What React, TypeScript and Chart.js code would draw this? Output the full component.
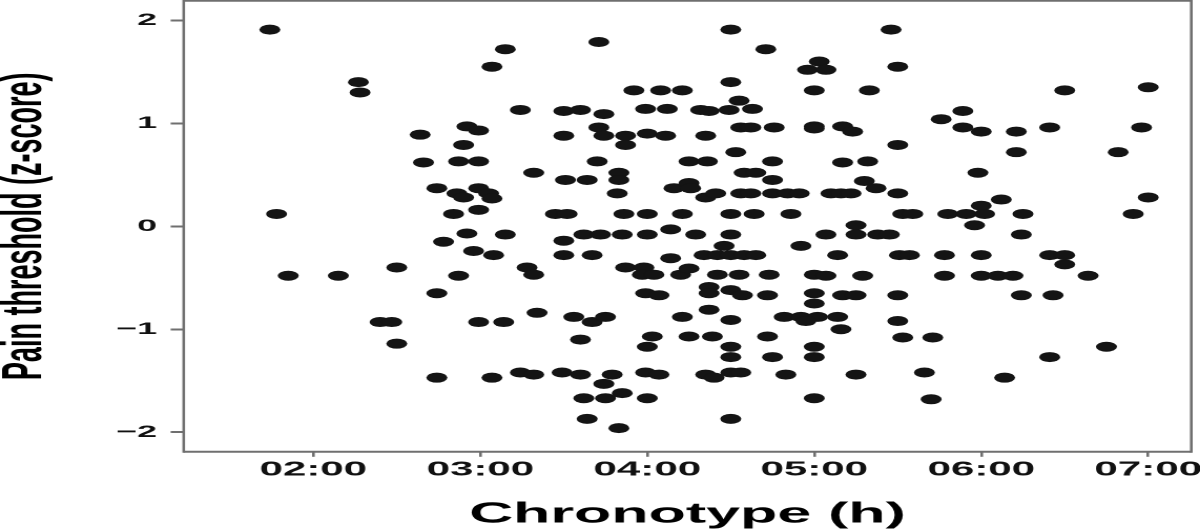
import { useEffect, useRef } from 'react';
import { Chart, registerables } from 'chart.js';

Chart.register(...registerables);

// chronotype in decimal hours, one entry per participant
const chronotype = [
  1.74, 3.15, 3.07, 2.27, 2.28, 2.92, 2.99, 2.64, 2.90, 2.66,
  2.87, 2.99, 2.74, 2.86, 2.90, 2.99, 3.05, 3.07, 1.78, 2.84,
  2.99, 2.92, 3.15, 2.78, 2.96, 3.08, 1.85, 2.15, 2.50, 2.87,
  2.74, 2.40, 2.47, 2.99, 3.14, 2.50, 2.74, 3.07,
  4.50, 3.71, 4.71, 5.03, 4.96, 5.07, 4.50, 3.92, 4.08, 4.21,
  5.00, 4.55, 3.24, 3.50, 3.60, 3.74, 3.99, 4.12, 4.32, 4.37,
  4.49, 4.63, 4.56, 4.62, 4.76, 5.00, 5.00, 3.71, 3.50, 3.74,
  3.87, 4.00, 4.11, 3.87, 4.35, 4.53, 3.70, 4.25, 4.36, 4.75,
  3.32, 3.83, 3.83, 3.51, 3.64, 4.58, 4.65, 4.75, 3.82, 4.16,
  4.25, 4.26, 4.35, 4.41, 4.56, 4.62, 4.75, 4.84, 4.91, 3.45,
  3.52, 3.86, 4.00, 4.21, 4.50, 4.64, 4.86,
  3.62, 3.72, 3.85, 4.00, 4.14, 4.29, 4.50, 5.07, 3.50, 3.50,
  3.67, 4.14, 4.34, 4.42, 4.50, 4.58, 4.65, 4.46, 4.92, 3.28,
  3.32, 3.87, 3.98, 3.97, 4.04, 4.20, 4.25, 4.42, 4.55, 4.73,
  5.00, 3.99, 4.07, 4.37, 4.37, 4.50, 4.57, 4.72, 5.00, 5.00,
  3.34, 3.56, 3.67, 3.75, 4.21, 4.37, 4.50, 4.82, 4.92, 5.02,
  4.95, 5.16, 3.60, 4.03, 4.00, 4.25, 4.39, 4.50, 4.50, 4.72,
  4.75, 5.00, 5.00, 3.24, 3.32, 3.49, 3.60, 3.79, 3.74, 3.99,
  4.07, 4.35, 4.40, 4.50, 4.56, 4.83, 3.62, 3.75, 3.85, 4.00,
  5.00, 3.64, 4.50, 3.83,
  5.46, 5.50, 5.33, 6.50, 7.00, 5.89, 5.76, 5.17, 5.23, 5.50,
  5.89, 6.00, 6.21, 6.41, 6.96, 6.21, 6.82, 5.17, 5.32, 5.98,
  5.30, 5.10, 5.16, 5.22, 5.37, 5.50, 6.12, 6.00, 7.00, 5.53,
  5.59, 5.80, 5.91, 6.02, 6.25, 6.91, 5.96, 5.25,
  5.25, 5.38, 5.45, 6.24, 5.14, 5.51, 5.57, 5.78, 6.00, 6.41,
  6.50, 6.50, 5.07, 5.29, 5.78, 6.00, 6.10, 6.19, 6.64, 5.17,
  5.25, 5.50, 6.24, 6.43, 5.14, 5.50, 5.53, 5.71, 6.75, 6.41,
  5.25, 5.66, 6.14, 5.70,
];

// pain threshold z-scores, same order as chronotype
const painZ = [
  1.91, 1.72, 1.55, 1.40, 1.30, 0.97, 0.93, 0.89, 0.79, 0.62,
  0.63, 0.63, 0.37, 0.32, 0.28, 0.37, 0.32, 0.27, 0.12, 0.12,
  0.16, -0.07, -0.08, -0.15, -0.24, -0.28, -0.48, -0.48, -0.40, -0.48,
  -0.65, -0.93, -0.93, -0.93, -0.93, -1.14, -1.47, -1.47,
  1.91, 1.79, 1.72, 1.60, 1.52, 1.52, 1.40, 1.32, 1.32, 1.32,
  1.32, 1.22, 1.13, 1.12, 1.13, 1.09, 1.14, 1.14, 1.13, 1.12,
  1.13, 1.14, 0.96, 0.96, 0.96, 0.97, 0.95, 0.96, 0.88, 0.88,
  0.88, 0.90, 0.88, 0.79, 0.88, 0.72, 0.63, 0.63, 0.63, 0.63,
  0.52, 0.52, 0.45, 0.45, 0.45, 0.52, 0.52, 0.45, 0.32, 0.37,
  0.42, 0.37, 0.28, 0.32, 0.32, 0.32, 0.32, 0.32, 0.32, 0.12,
  0.12, 0.12, 0.12, 0.12, 0.12, 0.12, 0.12,
  -0.08, -0.08, -0.08, -0.08, -0.03, -0.08, -0.08, -0.08, -0.14, -0.28,
  -0.28, -0.31, -0.28, -0.28, -0.28, -0.28, -0.28, -0.19, -0.19, -0.40,
  -0.47, -0.40, -0.40, -0.47, -0.47, -0.47, -0.41, -0.47, -0.47, -0.47,
  -0.47, -0.65, -0.67, -0.59, -0.65, -0.62, -0.67, -0.67, -0.65, -0.75,
  -0.84, -0.88, -0.93, -0.88, -0.88, -0.81, -0.91, -0.88, -0.88, -0.88,
  -0.92, -1.00, -1.10, -1.07, -1.17, -1.07, -1.07, -1.17, -1.27, -1.07,
  -1.27, -1.17, -1.27, -1.42, -1.44, -1.42, -1.44, -1.44, -1.53, -1.42,
  -1.44, -1.44, -1.47, -1.42, -1.42, -1.44, -1.67, -1.67, -1.62, -1.67,
  -1.67, -1.87, -1.87, -1.96,
  1.91, 1.55, 1.32, 1.32, 1.35, 1.12, 1.04, 0.97, 0.92, 0.79,
  0.96, 0.92, 0.92, 0.96, 0.96, 0.72, 0.72, 0.62, 0.63, 0.52,
  0.44, 0.32, 0.32, 0.32, 0.37, 0.32, 0.26, 0.20, 0.28, 0.12,
  0.12, 0.12, 0.12, 0.12, 0.12, 0.12, 0.01, 0.01,
  -0.08, -0.08, -0.08, -0.08, -0.28, -0.28, -0.28, -0.28, -0.28, -0.28,
  -0.28, -0.37, -0.48, -0.48, -0.48, -0.48, -0.48, -0.48, -0.48, -0.67,
  -0.67, -0.67, -0.67, -0.67, -0.88, -0.92, -1.08, -1.08, -1.17, -1.27,
  -1.44, -1.42, -1.47, -1.68,
];

const xTickValues = [2, 3, 4, 5, 6, 7];
const xTickLabels = ['02:00', '03:00', '04:00', '05:00', '06:00', '07:00'];
const yTickValues = [-2, -1, 0, 1, 2];
const yTickLabels = ['\u22122', '\u22121', '0', '1', '2'];

const xTitle = 'Chronotype (h)';
const yTitle = 'Pain threshold (z-score)';

// the source figure is squashed vertically, so draw it narrow and show it 1200 wide
const VIEW_W = 1200;
const VIEW_H = 530;
const DRAW_W = 571;
const SX = VIEW_W / DRAW_W;

const FONT = '"Liberation Sans", Arial, sans-serif';
const AXIS = '#6f6f6f';
const INK = '#111111';

const framePlugin = {
  id: 'frame',
  afterDraw(chart: Chart) {
    const { ctx, chartArea: a } = chart;
    ctx.save();
    ctx.strokeStyle = AXIS;
    ctx.lineWidth = 2;
    ctx.beginPath();
    ctx.moveTo(a.left, a.top);
    ctx.lineTo(a.right, a.top);
    ctx.moveTo(a.left, a.bottom);
    ctx.lineTo(a.right, a.bottom);
    ctx.stroke();
    ctx.lineWidth = 2.7 / SX;
    ctx.beginPath();
    ctx.moveTo(a.left, a.top - 1);
    ctx.lineTo(a.left, a.bottom + 1);
    ctx.moveTo(a.right, a.top - 1);
    ctx.lineTo(a.right, a.bottom + 1);
    ctx.stroke();
    ctx.restore();
  },
};

export default function App() {
  const canvasRef = useRef<HTMLCanvasElement>(null);

  useEffect(() => {
    document.body.style.margin = '0';
    if (!canvasRef.current) return;

    const chart = new Chart(canvasRef.current, {
      type: 'scatter',
      data: {
        datasets: [{
          data: chronotype.map((x, i) => ({ x, y: painZ[i] })),
          pointRadius: 5,
          pointBackgroundColor: '#141414',
          pointBorderWidth: 0,
          pointHoverRadius: 5,
        }],
      },
      options: {
        responsive: false,
        devicePixelRatio: 2,
        animation: false,
        events: [],
        layout: { autoPadding: false, padding: { top: 0.8, right: 4.14, bottom: 0, left: 0 } },
        plugins: {
          legend: { display: false },
          tooltip: { enabled: false },
        },
        scales: {
          x: {
            type: 'linear',
            position: 'bottom',
            min: 1.224,
            max: 7.258,
            afterBuildTicks: (s: any) => { s.ticks = xTickValues.map((value) => ({ value })); },
            afterFit: (s: any) => { s.height = 78.2; s.paddingLeft = 0; s.paddingRight = 0; },
            border: { display: false },
            grid: { drawOnChartArea: false, drawTicks: true, tickLength: 5, color: AXIS, lineWidth: 2.7 / SX },
            ticks: {
              autoSkip: false,
              maxRotation: 0,
              minRotation: 0,
              padding: 1.3,
              color: INK,
              font: { family: FONT, size: 20, weight: 'bold' },
              callback: (_v: any, i: number) => xTickLabels[i],
            },
            title: {
              display: true,
              text: xTitle,
              color: '#000',
              font: { family: FONT, size: 29, weight: 'bold', lineHeight: 1 },
              padding: { top: 0, bottom: 1 },
            },
          },
          y: {
            type: 'linear',
            min: -2.19,
            max: 2.19,
            afterBuildTicks: (s: any) => { s.ticks = yTickValues.map((value) => ({ value })); },
            afterFit: (s: any) => { s.width = 183.7 / SX; s.paddingTop = 0; s.paddingBottom = 0; },
            border: { display: false },
            grid: { drawOnChartArea: false, drawTicks: true, tickLength: 6.2, color: AXIS, lineWidth: 2 },
            ticks: {
              autoSkip: false,
              padding: 6.5,
              color: INK,
              font: { family: FONT, size: 17, weight: 'bold' },
              callback: (_v: any, i: number) => yTickLabels[i],
            },
            title: {
              display: true,
              text: yTitle,
              color: '#000',
              font: { family: FONT, size: 27, weight: 'bold', lineHeight: 0.9 },
              padding: 0,
            },
          },
        },
      },
      plugins: [framePlugin],
    });

    return () => chart.destroy();
  }, []);

  return (
    <canvas
      ref={canvasRef}
      width={DRAW_W}
      height={VIEW_H}
      style={{ display: 'block', width: `${VIEW_W}px`, height: `${VIEW_H}px` }}
    />
  );
}
